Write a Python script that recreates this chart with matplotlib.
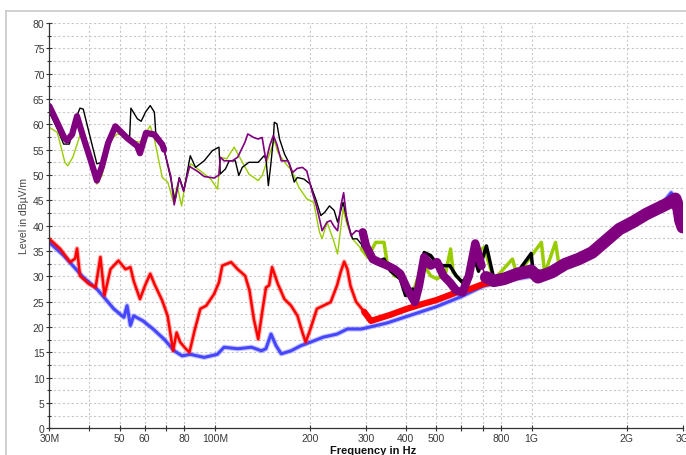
import numpy as np
import matplotlib
matplotlib.use("Agg")
import matplotlib.pyplot as plt
from matplotlib.ticker import FixedLocator, MultipleLocator, NullLocator
from matplotlib.lines import Line2D

plt.rcParams['font.family'] = ['Liberation Sans Narrow', 'Liberation Sans', 'DejaVu Sans']

# frequencies in MHz, levels in dBuV/m
purple_f = [30, 31.8, 33.3, 34.1, 35.4, 36.7, 38.4, 40.4, 42.4, 44, 46, 48.5, 52.8, 56.9, 58,
            60.6, 64.4, 68.2, 69.1, 72.6, 74.4, 77.2, 79.6, 83.1, 88.2, 92.5, 99.4, 103, 104,
            106.9, 113.5, 118, 124.5, 127, 132.6, 137, 141, 145, 149, 153, 157, 162, 170, 176,
            182, 189, 195, 203, 209, 214, 218, 226, 232, 238, 244, 250, 255, 260, 269, 279,
            293, 300, 315, 330, 351, 369, 385, 405, 428, 441, 458, 480, 503, 527, 552, 578,
            605, 634, 664, 695, 719, 760, 819, 903, 997, 1047, 1156, 1275, 1407, 1553, 1714,
            1891, 2087, 2303, 2541, 2737, 2843, 2913, 2951, 3000]
purple_db = [63.6, 60.3, 57.6, 56.8, 58.0, 61.6, 57.5, 53.2, 48.9, 51.7, 56.3, 59.6, 57.3, 55.7,
             54.3, 58.3, 58.0, 56.0, 55.0, 49.7, 44.1, 49.4, 46.8, 51.7, 50.7, 49.7, 49.4, 50.0,
             53.5, 52.8, 52.8, 53.5, 56.5, 58.1, 57.4, 57.1, 57.4, 52.8, 55.8, 57.8, 56.0, 52.8,
             52.8, 50.5, 51.3, 51.5, 50.8, 46.6, 44.0, 41.3, 39.0, 40.7, 41.0, 39.8, 39.0, 44.0,
             46.5, 42.0, 38.0, 39.0, 38.7, 36.0, 33.4, 32.8, 32.1, 31.4, 30.5, 27.5, 24.9, 28.1,
             33.8, 32.1, 32.8, 30.1, 28.8, 27.2, 26.8, 30.1, 36.5, 32.1, 29.8, 29.1, 29.5, 30.5,
             31.1, 29.8, 30.8, 32.4, 33.4, 34.7, 37.0, 39.3, 40.7, 42.3, 43.6, 44.6, 45.3, 43.3,
             41.0, 39.7]

black_f = [30, 31.8, 33.3, 34.7, 36.7, 37.5, 38.4, 40.4, 42.4, 44, 46.8, 49.1, 52.8, 53.8, 54.3,
           56.9, 58.5, 60.5, 62.5, 64.4, 65.2, 69.1, 72.6, 74.8, 77.2, 79.8, 83.6, 86.9, 92.5,
           98.2, 103, 104, 108, 111, 116, 119, 122, 128, 137, 143, 145, 147.5, 150, 153, 154,
           157, 160, 166, 172, 178, 182, 191, 200, 208, 216, 222, 230, 238, 244, 254, 262, 272,
           281, 293, 307, 326, 342, 358, 385, 400, 421, 436, 458, 480, 503, 527, 552, 578, 605,
           642, 656, 680, 720, 760, 819, 903, 997, 1010, 1156, 1275, 1407, 1553, 1714, 1891,
           2087, 2303, 2541, 2737, 2843, 2913, 2951, 3000]
black_db = [62.4, 59.1, 56.1, 56.1, 61.7, 63.2, 63.0, 57.4, 52.2, 52.5, 57.4, 59.7, 57.8, 57.5,
            63.2, 61.1, 60.6, 62.5, 63.7, 62.4, 57.4, 55.1, 49.2, 44.9, 49.5, 46.9, 53.8, 51.5,
            52.8, 54.8, 55.5, 50.2, 51.2, 52.8, 52.8, 49.9, 51.5, 52.5, 52.5, 53.8, 53.2, 47.9,
            51.8, 57.1, 60.4, 60.1, 57.1, 54.1, 52.2, 48.6, 49.5, 49.2, 48.2, 45.3, 42.0, 42.6,
            43.9, 43.0, 40.7, 44.6, 40.7, 37.4, 37.4, 36.0, 35.1, 32.8, 33.4, 31.1, 29.5, 26.2,
            27.5, 25.5, 34.7, 34.1, 32.4, 32.1, 32.1, 30.1, 28.8, 31.1, 34.1, 31.0, 36.0, 29.5,
            30.0, 30.8, 34.5, 31.0, 31.0, 32.6, 33.6, 35.0, 37.2, 39.5, 41.0, 42.5, 43.8, 44.8,
            45.5, 43.5, 41.0, 40.0]

green_f = [30, 31.8, 33.6, 34.3, 35.6, 37.5, 38.4, 40.4, 42.4, 44, 46.8, 49.1, 51.6, 54.1, 58,
           62.5, 64.4, 68.2, 71, 74, 76, 78.5, 81, 84, 90, 97, 102, 104, 109, 115, 119, 128,
           137, 141, 147, 150, 154, 158, 166, 175, 184, 195, 205, 214, 218, 226, 238, 244, 254,
           262, 272, 290, 304, 322, 342, 351, 369, 395, 416, 436, 458, 480, 503, 536, 555, 565,
           605, 640, 664, 708, 760, 870, 900, 1074, 1100, 1190, 1220, 1275, 1407, 1553, 1714,
           1891, 2087, 2303, 2541, 2737, 2843, 2913, 2951, 3000]
green_db = [59.4, 58.4, 52.5, 51.8, 53.5, 57.8, 57.1, 52.5, 48.2, 49.9, 56.8, 58.1, 57.8, 56.8,
            56.5, 59.7, 57.1, 49.5, 48.6, 44.6, 47.9, 43.9, 49.2, 52.2, 50.8, 49.2, 47.2, 53.5,
            53.2, 55.5, 53.8, 50.2, 48.9, 49.9, 53.2, 54.8, 56.8, 54.5, 52.5, 50.8, 47.6, 45.3,
            44.6, 38.7, 37.4, 40.7, 36.7, 34.4, 43.3, 40.0, 37.4, 35.4, 33.8, 36.7, 36.7, 32.1,
            30.1, 29.5, 25.5, 29.5, 32.1, 30.1, 29.5, 30.8, 35.4, 30.8, 28.8, 30.5, 34.5, 35.7,
            29.3, 33.4, 30.2, 36.7, 30.5, 36.7, 32.2, 32.4, 33.2, 34.5, 36.8, 39.0, 40.5, 42.0,
            43.4, 44.3, 45.0, 44.0, 42.0, 40.0]

red_f = [30, 32.5, 34.9, 36.2, 36.7, 37.5, 40, 42, 43.5, 44.8, 46.8, 49.6, 52.2, 54.1, 55.4, 58,
         60.2, 62.5, 64.4, 68.2, 70.9, 73.8, 75.7, 77.7, 80.9, 83.1, 86.5, 90, 93.9, 99.4, 103,
         105.5, 112.5, 118, 124.6, 128.6, 132.7, 137, 141, 145, 148.3, 151.6, 158, 165.8, 174,
         182.3, 189, 193.5, 200.3, 210, 220, 232, 243, 250, 256, 262, 268, 279, 296, 311, 358,
         400, 450, 500, 578, 640, 705, 800, 1000, 1200, 1500, 2000, 2500, 2800, 2950, 3000]
red_db = [37.4, 35.4, 32.8, 33.5, 35.5, 30.1, 28.5, 27.8, 33.8, 26.2, 31.4, 33.1, 31.4, 31.8,
          29.1, 25.5, 28.2, 30.5, 28.5, 25.2, 22.2, 15.3, 18.9, 17.0, 15.7, 15.0, 19.6, 23.6,
          24.2, 26.5, 28.8, 32.1, 32.8, 31.4, 30.1, 27.2, 21.6, 17.6, 22.9, 27.8, 28.2, 31.8,
          28.5, 25.5, 24.2, 22.2, 18.9, 17.0, 19.6, 23.6, 24.2, 24.9, 28.2, 31.0, 32.9, 31.4,
          28.1, 25.0, 23.0, 21.2, 22.4, 23.5, 24.5, 25.3, 26.8, 27.5, 28.5, 29.0, 30.2, 31.3,
          34.0, 40.0, 43.0, 44.5, 41.0, 39.5]

blue_f = [30, 33.3, 35.6, 38.4, 42.4, 44.6, 47.9, 51.6, 52.8, 54.1, 55.4, 59.3, 63.8, 69.1, 74.4,
          78.8, 83.6, 92.5, 101.8, 106.9, 118.1, 130.5, 140.2, 144.9, 150.4, 156, 162, 174,
          186.7, 200.3, 220, 243, 262, 290, 350, 400, 500, 600, 700, 800, 1000, 1200, 1500,
          2000, 2500, 2760, 2850, 2950, 3000]
blue_db = [36.7, 34.1, 32.1, 29.8, 27.5, 25.9, 23.6, 21.9, 24.2, 20.3, 22.2, 21.2, 19.6, 17.6,
           15.3, 14.3, 14.6, 14.0, 14.6, 16.0, 15.7, 16.0, 15.3, 15.7, 18.6, 16.3, 14.7, 15.3,
           16.3, 17.0, 18.0, 18.6, 19.6, 19.6, 20.8, 22.0, 24.0, 26.0, 28.0, 29.0, 30.0, 31.0,
           33.8, 40.5, 43.2, 46.5, 45.0, 41.0, 39.5]

tick_freqs = [30, 40, 50, 60, 70, 80, 100, 200, 300, 400, 500, 600, 700, 800, 1000, 2000, 3000]
tick_labels = ['30M', '', '50', '60', '', '80', '100M', '200', '300', '400', '500', '', '',
               '800', '1G', '2G', '3G']


def trace(ax, f, v, color, base_lw, bands=(), halo=0.0):
    f = np.asarray(f)
    v = np.asarray(v)
    if halo:
        # faint wider stroke under the trace for the noisy edge
        ax.plot(f, v, color=color, lw=base_lw + halo, alpha=0.3, solid_joinstyle='round')
    ax.plot(f, v, color=color, lw=base_lw, solid_joinstyle='round')
    for lo, hi, lw in bands:
        m = (f >= lo) & (f <= hi)
        ax.plot(f[m], v[m], color=color, lw=lw, solid_joinstyle='round',
                solid_capstyle='round')


fig = plt.figure(figsize=(6.86, 4.56), dpi=100)
ax = fig.add_axes([49.3 / 686, 1 - 429.3 / 456, 633.4 / 686, 405.3 / 456])

trace(ax, blue_f, blue_db, '#4646ff', 2.2, halo=1.6)
trace(ax, red_f, red_db, '#ff0000', 1.8, [(290, 800, 4.5)], halo=1.6)
trace(ax, green_f, green_db, '#99cc00', 1.0, [(290, 3000, 2.5)])
trace(ax, black_f, black_db, '#000000', 1.0, [(290, 3000, 2.5)])
trace(ax, purple_f, purple_db, '#800080', 1.2,
      [(30, 70, 4.5), (290, 700, 6.0), (700, 3000, 9.0)])

ax.set_xscale('log')
ax.set_xlim(30, 3000)
ax.set_ylim(0, 80)
ax.xaxis.set_major_locator(FixedLocator(tick_freqs))
ax.xaxis.set_minor_locator(NullLocator())
ax.set_xticklabels(tick_labels)
ax.yaxis.set_major_locator(MultipleLocator(5))
ax.yaxis.set_minor_locator(MultipleLocator(2.5))

grid_style = dict(color='#c8c8c8', lw=0.8, ls=(0, (2, 2)))
ax.grid(True, which='major', axis='x', **grid_style)
ax.grid(True, which='both', axis='y', **grid_style)
ax.set_axisbelow(True)

for side in ('top', 'right'):
    ax.spines[side].set_visible(False)
for side in ('left', 'bottom'):
    ax.spines[side].set_color('#333333')
    ax.spines[side].set_linewidth(0.9)

ax.tick_params(which='major', direction='inout', length=5, width=0.8, colors='#333333',
               labelsize=7.5, pad=1)
ax.tick_params(which='minor', direction='inout', length=3, width=0.8, colors='#333333')
ax.tick_params(axis='x', labelcolor='#3a3a3a')
ax.tick_params(axis='y', labelcolor='#3a3a3a')

fig.text(23.7 / 686, 1 - 216 / 456, 'Level in dBµV/m', rotation=90, ha='center',
         va='center', fontsize=7.5, color='#444444')
fig.text(330 / 686, 1 - 446 / 456, 'Frequency in Hz', ha='left', va='top',
         fontsize=8, color='#111111', fontweight='bold')

# outer frame
fig.add_artist(Line2D([6 / 686, 1], [1 - 12 / 456] * 2, color='#c8c8c8', lw=1.2,
                      transform=fig.transFigure))
fig.add_artist(Line2D([6 / 686] * 2, [0, 1 - 12 / 456], color='#c8c8c8', lw=1.2,
                      transform=fig.transFigure))

fig.savefig('out.png', dpi=100)
